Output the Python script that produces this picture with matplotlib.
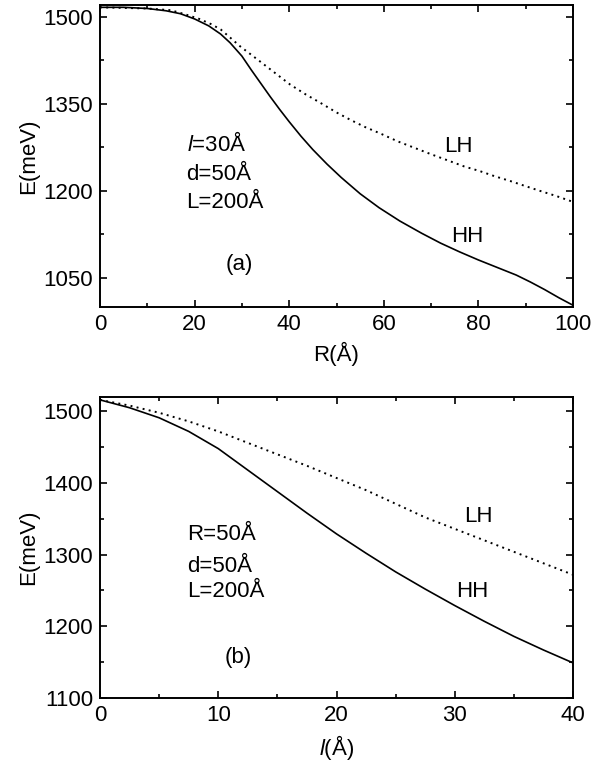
import numpy as np
import matplotlib as mpl
mpl.use('agg')
import matplotlib.pyplot as plt
from matplotlib.ticker import MultipleLocator

plt.rcParams['font.family'] = ['Liberation Sans', 'DejaVu Sans']
plt.rcParams['mathtext.fontset'] = 'custom'
plt.rcParams['mathtext.rm'] = 'Liberation Sans'
plt.rcParams['mathtext.it'] = 'Liberation Sans:italic'

# panel (a): energy vs R (l=30, d=50, L=200)
R_hh_a = [0, 5, 10, 14, 17, 20, 23, 25.5, 27.5, 30, 32, 34, 36, 38, 40, 42.5, 45,
          48, 51, 55, 59, 63.4, 68, 72, 76, 80, 84, 88, 91, 94, 97, 100]
HH_a = [1516, 1516, 1514, 1510, 1505, 1496, 1484, 1470, 1455, 1432, 1408, 1385,
        1362, 1340, 1319, 1294, 1271, 1246, 1223, 1195, 1171, 1148, 1127, 1110,
        1095, 1081, 1068, 1055, 1043, 1030, 1016, 1003]
R_lh_a = [0, 10, 15, 18, 21, 23.5, 25.5, 27.5, 29.6, 31.7, 33.8, 37, 40.2, 43.5,
          46.5, 50, 53, 56, 59.2, 63, 66.5, 70, 74, 77, 80.3, 83.5, 86.7, 90, 93,
          96.5, 100]
LH_a = [1516, 1514, 1511, 1504, 1496, 1487, 1478, 1464, 1449, 1436, 1423, 1403,
        1383, 1366, 1352, 1335, 1322, 1310, 1299, 1285, 1274, 1263, 1251, 1242,
        1234, 1225, 1217, 1208, 1200, 1191, 1181]

# panel (b): energy vs l (R=50, d=50, L=200)
l_b = [0, 2.5, 5, 7.5, 10, 12.5, 15, 17.5, 20, 22.5, 25, 27.5, 30, 32.5, 35, 37.5, 40]
HH_b = [1516, 1505, 1491, 1472, 1448, 1418, 1388, 1358, 1329, 1302, 1276, 1252,
        1229, 1207, 1186, 1167, 1149]
LH_b = [1516, 1508, 1498, 1486, 1472, 1456, 1440, 1424, 1407, 1390, 1371, 1352,
        1336, 1320, 1304, 1288, 1272]

fs = 16

fig = plt.figure(figsize=(5.92, 7.64), dpi=100)
ax1 = fig.add_axes([100/592, 1-307/764, 473/592, 302/764])
ax2 = fig.add_axes([100/592, 1-698/764, 473/592, 301/764])

dots = (0, (1, 2.2))
ax1.plot(R_hh_a, HH_a, color='k', lw=1.2, ls='-')
ax1.plot(R_lh_a, LH_a, color='k', lw=1.4, ls=dots)
ax2.plot(l_b, HH_b, color='k', lw=1.2, ls='-')
ax2.plot(l_b, LH_b, color='k', lw=1.4, ls=dots)

ax1.set_xlim(0, 100)
ax1.set_ylim(1000, 1520)
ax1.xaxis.set_major_locator(MultipleLocator(20))
ax1.xaxis.set_minor_locator(MultipleLocator(10))
ax1.set_yticks([1050, 1200, 1350, 1500])
ax1.set_yticks([1125, 1275, 1425], minor=True)
ax1.set_xlabel('R(Å)', fontsize=fs, labelpad=5)
ax1.set_ylabel('E(meV)', fontsize=fs, labelpad=3)

ax2.set_xlim(0, 40)
ax2.set_ylim(1100, 1520)
ax2.xaxis.set_major_locator(MultipleLocator(10))
ax2.xaxis.set_minor_locator(MultipleLocator(5))
ax2.yaxis.set_major_locator(MultipleLocator(100))
ax2.yaxis.set_minor_locator(MultipleLocator(50))
ax2.set_xlabel(r'$\mathit{l}$(Å)', fontsize=fs, labelpad=5)
ax2.set_ylabel('E(meV)', fontsize=fs, labelpad=3)

for ax in (ax1, ax2):
    ax.tick_params(which='both', direction='in', top=True, right=True,
                   labelsize=fs, width=1.2, pad=5)
    ax.tick_params(which='major', length=5)
    ax.tick_params(which='minor', length=3)
    for s in ax.spines.values():
        s.set_linewidth(1.4)

# annotations panel (a)
ax1.text(18.3, 1280, r'$\mathit{l}$=30Å', fontsize=fs, va='center')
ax1.text(18.3, 1228, 'd=50Å', fontsize=fs, va='center')
ax1.text(18.3, 1180, 'L=200Å', fontsize=fs, va='center')
ax1.text(29.5, 1073, '(a)', fontsize=fs, ha='center', va='center')
ax1.text(75.7, 1276, 'LH', fontsize=fs, ha='center', va='center')
ax1.text(77.6, 1122, 'HH', fontsize=fs, ha='center', va='center')

# annotations panel (b)
ax2.text(7.4, 1328, 'R=50Å', fontsize=fs, va='center')
ax2.text(7.4, 1283, 'd=50Å', fontsize=fs, va='center')
ax2.text(7.4, 1248, 'L=200Å', fontsize=fs, va='center')
ax2.text(11.7, 1156, '(b)', fontsize=fs, ha='center', va='center')
ax2.text(32.0, 1353, 'LH', fontsize=fs, ha='center', va='center')
ax2.text(31.5, 1248, 'HH', fontsize=fs, ha='center', va='center')

plt.savefig('out.png', dpi=100)
